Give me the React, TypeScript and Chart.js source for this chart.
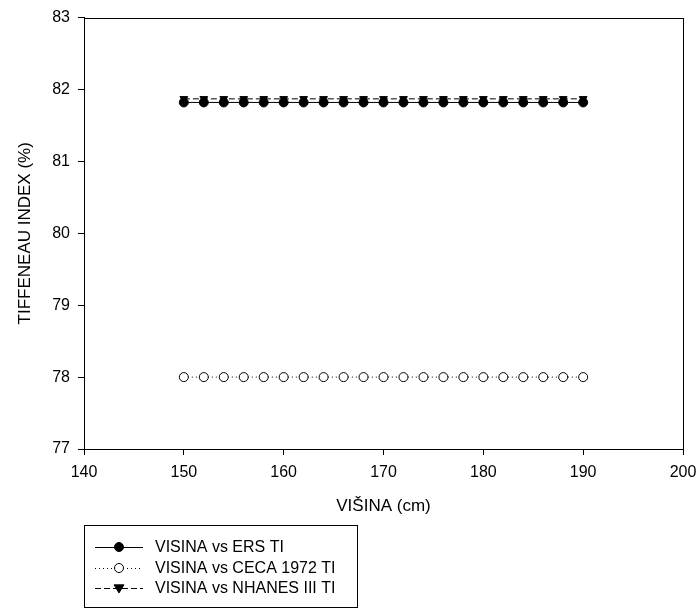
import React, { useEffect, useRef } from "react";
import { Chart, registerables } from "chart.js";

Chart.register(...registerables);

const heights = [150, 152, 154, 156, 158, 160, 162, 164, 166, 168, 170, 172, 174, 176, 178, 180, 182, 184, 186, 188, 190];
const ersTI = [81.82, 81.82, 81.82, 81.82, 81.82, 81.82, 81.82, 81.82, 81.82, 81.82, 81.82, 81.82, 81.82, 81.82, 81.82, 81.82, 81.82, 81.82, 81.82, 81.82, 81.82];
const cecaTI = [78, 78, 78, 78, 78, 78, 78, 78, 78, 78, 78, 78, 78, 78, 78, 78, 78, 78, 78, 78, 78];
const nhanesTI = [81.87, 81.87, 81.87, 81.87, 81.87, 81.87, 81.87, 81.87, 81.87, 81.87, 81.87, 81.87, 81.87, 81.87, 81.87, 81.87, 81.87, 81.87, 81.87, 81.87, 81.87];
const seriesLabels = ["VISINA vs ERS TI", "VISINA vs CECA 1972 TI", "VISINA vs NHANES III TI"];
const xTitle = "VIŠINA (cm)";
const yTitle = "TIFFENEAU INDEX (%)";

const FONT = "'Liberation Sans', Arial, sans-serif";

const framePlugin = {
  id: "frameAndLegend",
  afterDraw(chart: any) {
    const ctx = chart.ctx;
    const a = chart.chartArea;
    ctx.save();
    ctx.strokeStyle = "#000";
    ctx.lineWidth = 1;
    ctx.setLineDash([]);
    ctx.strokeRect(Math.round(a.left) + 0.5, Math.round(a.top) + 0.5, Math.round(a.right - a.left), Math.round(a.bottom - a.top));

    // legend box
    ctx.strokeRect(84.5, 525.5, 273, 82);
    const rows = [547, 568, 588];
    chart.data.datasets.forEach((ds: any, i: number) => {
      const y = rows[i];
      ctx.save();
      ctx.strokeStyle = "#000";
      ctx.lineWidth = 1;
      ctx.setLineDash(ds.borderDash || []);
      ctx.beginPath();
      ctx.moveTo(95, y + 0.5);
      ctx.lineTo(143, y + 0.5);
      ctx.stroke();
      ctx.setLineDash([]);
      ctx.fillStyle = ds.pointBackgroundColor;
      ctx.strokeStyle = "#000";
      const r = ds.pointRadius;
      ctx.beginPath();
      if (ds.pointStyle === "triangle") {
        ctx.moveTo(119 - r * 1.1, y - r * 0.7);
        ctx.lineTo(119 + r * 1.1, y - r * 0.7);
        ctx.lineTo(119, y + r * 1.1);
        ctx.closePath();
      } else {
        ctx.arc(119, y, r, 0, Math.PI * 2);
      }
      ctx.fill();
      ctx.stroke();
      ctx.restore();
      ctx.fillStyle = "#000";
      ctx.font = `16px ${FONT}`;
      ctx.textBaseline = "middle";
      ctx.textAlign = "left";
      ctx.fillText(ds.label, 155, y + 1);
    });
    ctx.restore();
  },
};

export default function App() {
  const ref = useRef<HTMLCanvasElement | null>(null);
  useEffect(() => {
    if (!ref.current) return;
    const mk = (vals: number[]) => heights.map((x, i) => ({ x, y: vals[i] }));
    const chart = new Chart(ref.current, {
      type: "line",
      data: {
        datasets: [
          {
            label: seriesLabels[0],
            data: mk(ersTI),
            borderColor: "#000",
            borderWidth: 1,
            pointStyle: "circle",
            pointRadius: 4.5,
            pointBackgroundColor: "#000",
            pointBorderColor: "#000",
            pointBorderWidth: 1,
            order: 2,
          },
          {
            label: seriesLabels[1],
            data: mk(cecaTI),
            borderColor: "#000",
            borderWidth: 1,
            borderDash: [1, 3],
            pointStyle: "circle",
            pointRadius: 4.5,
            pointBackgroundColor: "#fff",
            pointBorderColor: "#000",
            pointBorderWidth: 1,
            order: 3,
          },
          {
            label: seriesLabels[2],
            data: mk(nhanesTI),
            borderColor: "#000",
            borderWidth: 1,
            borderDash: [6, 3],
            pointStyle: "triangle",
            pointRotation: 180,
            pointRadius: 4.5,
            pointBackgroundColor: "#000",
            pointBorderColor: "#000",
            pointBorderWidth: 1,
            order: 1,
          },
        ] as any,
      },
      options: {
        animation: false,
        responsive: true,
        maintainAspectRatio: false,
        layout: { padding: { top: 17, right: 16, bottom: 91, left: 0 } },
        plugins: { legend: { display: false }, tooltip: { enabled: false } },
        scales: {
          x: {
            type: "linear",
            min: 140,
            max: 200,
            ticks: { stepSize: 10, color: "#000", font: { family: FONT, size: 16 }, padding: 8, maxRotation: 0 },
            grid: { drawOnChartArea: false, drawTicks: true, tickLength: 6, color: "#000" },
            border: { display: true, color: "#000" },
            title: { display: true, text: xTitle, color: "#000", font: { family: FONT, size: 17 }, padding: 0 },
            afterFit: (s: any) => { s.height = 68; s.paddingLeft = 0; s.paddingRight = 0; },
          },
          y: {
            type: "linear",
            min: 77,
            max: 83,
            ticks: { stepSize: 1, color: "#000", font: { family: FONT, size: 16 }, padding: 8 },
            grid: { drawOnChartArea: false, drawTicks: true, tickLength: 6, color: "#000" },
            border: { display: true, color: "#000" },
            title: { display: true, text: yTitle, color: "#000", font: { family: FONT, size: 17 }, padding: { top: 15, bottom: 0 } },
            afterFit: (s: any) => { s.width = 84; },
          },
        },
      } as any,
      plugins: [framePlugin],
    });
    return () => chart.destroy();
  }, []);
  return (
    <div style={{ position: "fixed", left: 0, top: 0, width: 699, height: 608, background: "#fff" }}>
      <canvas ref={ref} />
    </div>
  );
}
